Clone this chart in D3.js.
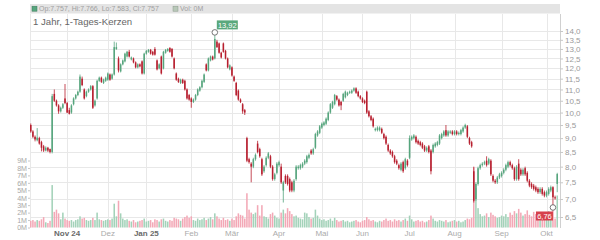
<!DOCTYPE html>
<html><head><meta charset="utf-8">
<script src="https://cdn.jsdelivr.net/npm/d3@7"></script>
<style>body{margin:0;background:#fff}svg{display:block;font-family:"Liberation Sans",Arial,sans-serif}</style>
</head><body><svg id="c" width="600" height="240"></svg>
<script>
// ---- data ----
const open=[9.50,9.25,9.05,8.92,9.00,8.85,8.70,8.55,8.65,8.60,8.50,10.80,10.50,10.30,10.05,10.20,10.60,10.40,10.10,10.00,
10.35,10.60,10.75,10.90,11.50,11.00,10.70,10.90,11.00,11.15,10.30,10.60,11.40,11.55,11.30,11.40,11.45,11.70,11.50,11.70,
13.00,12.50,11.85,12.20,12.35,12.60,12.85,12.45,12.50,12.30,12.05,12.20,12.35,11.75,12.75,12.85,12.95,12.85,13.00,12.40,
12.00,12.60,12.00,12.80,12.90,13.05,13.00,12.50,11.75,11.50,11.30,11.45,11.40,11.00,10.75,10.60,10.45,10.55,10.75,10.95,
11.10,11.35,12.20,11.90,12.40,12.60,12.50,13.40,13.30,12.80,13.30,12.90,12.50,11.95,12.05,11.60,11.30,10.95,10.55,10.35,
10.10,9.00,8.25,8.10,8.00,8.25,8.80,8.60,8.25,7.85,8.05,8.30,8.35,8.00,7.60,7.80,8.05,8.00,7.25,7.70,
7.70,7.60,7.50,7.25,7.60,7.95,7.95,8.00,8.10,8.15,8.30,8.55,8.45,8.65,9.10,9.20,9.40,9.50,9.55,9.70,
10.00,10.20,10.35,10.70,10.55,10.45,10.50,10.65,10.75,10.85,10.85,10.95,11.05,10.90,10.70,10.60,10.50,10.90,10.05,9.85,
9.75,9.30,9.30,9.30,9.35,9.15,9.05,8.75,8.55,8.50,8.35,8.20,8.05,7.90,8.15,7.95,8.20,8.30,8.95,9.00,
9.05,8.90,8.85,8.80,8.70,8.55,8.70,8.55,8.50,8.70,8.75,8.80,9.00,9.10,9.30,9.10,9.20,9.25,9.15,9.25,
9.15,9.15,9.25,9.40,9.45,9.00,8.85,7.85,7.00,7.45,7.95,8.05,8.10,8.20,8.10,8.20,7.70,7.55,7.50,7.65,
7.70,7.80,7.90,8.00,8.15,8.05,7.95,7.60,8.10,7.90,7.75,7.95,7.80,7.55,7.45,7.40,7.35,7.30,7.20,7.30,
7.20,7.10,7.15,7.25,7.35,7.05,7.45];
const high=[9.56,9.30,9.10,9.38,9.05,8.90,8.75,8.70,8.68,8.62,10.80,11.00,10.55,10.35,10.25,10.40,11.25,10.45,10.20,10.35,
10.65,10.80,10.95,11.70,11.60,11.05,10.95,11.05,11.20,11.20,10.55,11.45,11.60,11.60,11.50,11.60,11.80,11.75,11.75,13.40,
13.35,12.60,12.25,12.45,12.80,12.90,12.95,12.60,12.55,12.35,12.25,12.25,12.40,12.80,12.95,13.00,13.00,12.90,13.10,12.45,
12.25,12.65,12.90,13.00,13.05,13.10,13.05,12.55,11.80,11.55,11.50,11.50,11.45,11.05,10.80,10.65,10.60,10.80,11.05,11.15,
11.45,11.75,12.25,12.55,12.65,12.65,13.92,13.50,13.35,12.85,13.35,12.95,12.55,12.20,12.10,11.65,11.35,11.00,10.60,10.40,
10.15,9.05,8.30,8.15,8.30,8.45,8.90,8.65,8.30,8.05,8.35,8.50,8.40,8.05,7.80,8.15,8.20,8.10,7.55,7.75,
7.75,7.65,7.55,7.60,8.05,8.05,8.10,8.15,8.25,8.40,8.45,8.60,8.65,9.20,9.30,9.50,9.60,9.65,9.80,10.05,
10.40,10.50,10.80,10.75,10.60,10.50,10.85,10.95,10.90,10.95,11.00,11.10,11.10,10.95,10.75,10.65,10.55,10.95,10.10,9.90,
9.80,9.40,9.45,9.45,9.40,9.20,9.10,8.80,8.60,8.55,8.40,8.25,8.10,8.15,8.20,8.30,8.25,9.10,9.10,9.15,
9.10,8.95,8.90,8.85,8.75,8.70,8.75,8.60,8.80,8.85,8.90,9.15,9.20,9.30,9.50,9.30,9.30,9.30,9.30,9.30,
9.25,9.35,9.45,9.55,9.50,9.05,8.90,8.00,7.50,8.00,8.10,8.15,8.20,8.35,8.30,8.25,7.75,7.60,7.70,7.80,
7.85,7.95,8.10,8.20,8.20,8.10,8.00,8.05,8.25,7.95,7.95,8.00,7.85,7.60,7.50,7.45,7.40,7.35,7.35,7.35,
7.25,7.25,7.35,7.40,7.38,7.10,7.80];
const low=[9.20,9.00,8.88,8.88,8.76,8.52,8.50,8.52,8.50,8.45,8.45,10.45,10.25,9.95,10.00,10.15,10.35,9.98,9.92,9.95,
10.30,10.55,10.70,10.85,11.15,10.55,10.65,10.85,10.95,10.15,10.25,10.55,11.35,11.30,11.25,11.35,11.40,11.40,11.45,11.65,
12.95,11.80,11.80,12.15,12.30,12.55,12.55,12.40,12.25,12.00,12.00,12.05,11.70,11.70,12.70,12.80,12.70,12.65,12.65,11.90,
11.95,11.70,11.95,12.75,12.85,12.80,12.55,11.95,11.40,11.30,11.25,11.25,10.95,10.55,10.50,10.20,10.40,10.50,10.70,10.90,
11.05,11.30,11.85,11.85,12.35,12.40,12.45,13.05,12.75,12.50,12.80,12.45,12.00,11.90,11.60,11.35,10.70,10.50,10.40,9.95,
9.90,8.15,8.10,7.50,7.95,8.20,8.45,8.30,7.70,7.80,8.00,8.25,7.95,7.55,7.55,7.75,8.00,7.45,6.90,7.45,
7.40,7.20,7.20,7.20,7.55,7.90,7.90,7.95,8.05,8.10,8.25,8.40,8.40,8.60,9.05,9.15,9.35,9.45,9.50,9.65,
9.95,10.15,10.30,10.50,10.25,10.10,10.45,10.60,10.70,10.80,10.80,10.90,10.80,10.65,10.55,10.40,10.35,9.95,9.80,9.65,
9.40,9.25,9.25,9.25,9.15,8.95,8.75,8.50,8.40,8.30,8.10,8.05,7.90,7.85,7.80,7.90,8.00,8.25,8.90,8.95,
8.80,8.75,8.70,8.60,8.50,8.50,8.45,7.75,8.45,8.65,8.70,8.75,8.95,9.05,9.05,9.05,9.15,9.10,9.10,9.10,
9.10,9.10,9.20,9.35,9.00,8.75,8.65,6.90,6.95,7.40,7.90,8.00,8.05,8.00,8.05,7.70,7.50,7.45,7.45,7.60,
7.65,7.75,7.85,7.95,8.00,7.90,7.55,7.55,7.55,7.70,7.70,7.70,7.50,7.35,7.30,7.25,7.20,7.15,7.15,7.10,
7.05,7.05,7.10,7.20,6.76,6.98,7.20];
const close=[9.25,9.05,8.95,9.02,8.80,8.65,8.55,8.65,8.55,8.50,10.70,10.50,10.30,10.05,10.20,10.35,10.40,10.00,9.95,10.30,
10.60,10.75,10.90,11.60,11.20,10.60,10.90,11.00,11.15,10.20,10.50,11.40,11.55,11.35,11.45,11.55,11.75,11.45,11.70,13.10,
13.10,11.90,12.20,12.40,12.75,12.85,12.60,12.55,12.30,12.05,12.20,12.10,11.75,12.75,12.90,12.95,12.75,12.70,12.70,11.95,
12.20,11.75,12.85,12.95,13.00,12.85,12.60,12.00,11.45,11.35,11.45,11.30,11.00,10.60,10.55,10.45,10.55,10.75,11.00,11.10,
11.40,11.70,11.90,12.50,12.60,12.45,13.55,13.10,12.80,12.55,12.85,12.50,12.05,12.15,11.65,11.40,10.75,10.55,10.45,10.05,
10.00,8.20,8.15,8.00,8.25,8.40,8.50,8.35,7.75,8.00,8.30,8.45,8.00,7.60,7.75,8.10,8.15,7.50,7.50,7.50,
7.45,7.25,7.25,7.55,8.00,8.00,8.05,8.10,8.20,8.35,8.40,8.45,8.60,9.15,9.25,9.45,9.55,9.60,9.75,10.00,
10.35,10.45,10.75,10.55,10.30,10.30,10.80,10.90,10.85,10.90,10.95,11.05,10.85,10.70,10.60,10.45,10.40,10.00,9.85,9.70,
9.45,9.35,9.40,9.40,9.20,9.00,8.80,8.55,8.45,8.35,8.15,8.10,7.95,8.10,7.85,8.25,8.05,9.00,9.05,9.10,
8.85,8.80,8.75,8.65,8.55,8.65,8.50,7.85,8.75,8.80,8.85,9.10,9.15,9.25,9.10,9.25,9.25,9.15,9.25,9.15,
9.20,9.30,9.40,9.50,9.05,8.80,8.70,6.95,7.45,7.95,8.05,8.10,8.15,8.05,8.25,7.75,7.55,7.50,7.65,7.75,
7.80,7.90,8.05,8.15,8.05,7.95,7.60,8.00,7.60,7.75,7.90,7.75,7.55,7.40,7.35,7.30,7.25,7.20,7.30,7.15,
7.10,7.20,7.30,7.35,7.05,7.02,7.76];
const volume=[0.9,1.0,0.8,1.0,0.9,1.1,1.4,0.7,0.6,0.9, 5.7,2.1,2.4,1.9,1.1,2.0,1.2,1.0,0.9,1.0,
0.8,1.0,1.1,1.5,1.2,1.3,1.0,0.9,1.0,1.3, 1.0,2.0,1.1,1.0,0.9,1.0,1.1,1.0,1.2,3.2,
1.5,3.6,1.9,1.2,1.0,1.1,0.9,0.8,1.0,0.7, 0.8,0.9,1.0,1.2,0.8,0.9,1.0,0.7,1.1,1.0,
0.8,1.1,1.2,0.9,0.8,1.0,0.9,1.3,1.2,1.1, 0.9,1.2,1.4,1.6,1.3,1.5,1.0,0.9,1.2,1.0,
1.1,1.3,1.0,1.2,1.4,1.1,1.9,1.5,1.2,1.0, 1.3,1.0,1.1,0.9,1.2,1.0,1.5,1.9,1.7,1.6,
1.2,4.6,2.4,2.0,1.8,2.0,3.0,1.6,3.0,1.5, 1.4,1.2,1.8,2.0,1.6,1.3,1.2,2.0,2.4,1.9,
2.6,2.2,1.8,1.5,1.6,1.3,1.2,1.1,2.0,1.9, 1.4,1.2,1.3,2.4,1.6,1.2,1.0,1.1,0.9,1.0,
1.2,0.9,1.3,1.0,0.8,0.9,1.0,0.8,0.9,0.7, 0.8,0.9,1.0,0.8,0.7,0.9,1.0,1.4,1.1,0.9,
1.0,0.8,0.7,0.9,0.8,1.0,1.2,0.9,1.0,0.8, 1.1,0.9,1.0,0.8,1.0,1.2,0.9,1.6,1.1,0.8,
0.9,1.0,0.8,0.9,0.7,0.8,1.0,1.6,1.2,0.9, 0.8,1.0,0.9,0.8,1.0,0.7,0.8,0.9,1.0,0.8,
0.9,0.7,0.8,1.0,1.2,1.1,1.3,8.1,5.3,2.6, 1.8,1.5,1.6,1.9,1.4,2.0,1.7,1.5,1.3,1.4,
1.6,1.5,1.8,1.4,2.0,1.7,2.2,1.9,2.5,2.0, 1.6,1.8,2.3,1.7,1.5,2.1,1.8,1.6,1.4,1.9,
2.0,1.7,2.2,1.8,2.5,1.2,4.3];
const monthLabels=["Nov 24","Dez","Jan 25","Feb","Mär","Apr","Mai","Jun","Jul","Aug","Sep","Okt"];
const monthStart=[17,36,54,75,94,116,136,155,177,198,220,241];
const yearLabels=["Nov 24","Jan 25"];
const priceTicks=[6.5,7,7.5,8,8.5,9,9.5,10,10.5,11,11.5,12,12.5,13,13.5,14];
const volTicks=[0,1,2,3,4,5,6,7,8,9];
const titleText="1 Jahr, 1-Tages-Kerzen";
const legendText="Op:7.757, Hi:7.766, Lo:7.583, Cl:7.757";
const volLegendText="Vol: 0M";
const maxIdx=86, minIdx=244;

// ---- drawing ----
const n=close.length;
const svg=d3.select("#c");
const GREEN="#56a57d", RED="#b71f2f", VGREEN="#a3d2b9", VRED="#f3a8b6";
const L=30,R=560,T=14,B=228;
const loc=d3.formatLocale({decimal:",",thousands:".",grouping:[3],currency:["","€"]});
const f1=loc.format(".1f"), f2=loc.format(".2f");

const x=d3.scaleBand().domain(d3.range(n)).range([L,558]).paddingInner(0.28);
const y=d3.scaleLog().domain([6.5,14]).range([217,31]);
const yv=d3.scaleLinear().domain([0,9]).range([227.5,160.5]);
const cx=i=>x(i)+x.bandwidth()/2;

// header bar
svg.append("rect").attr("x",L).attr("y",4).attr("width",R-L).attr("height",9.5).attr("fill","#e4e4e4");
svg.append("rect").attr("x",32).attr("y",6.2).attr("width",5).attr("height",5).attr("fill",GREEN).attr("stroke","#3d7a5a").attr("stroke-width",0.5);
svg.append("text").attr("x",39).attr("y",11.3).attr("font-size",7).attr("fill","#a0a0a0").text(legendText);
svg.append("rect").attr("x",173).attr("y",6.2).attr("width",5).attr("height",5).attr("fill","#b8c8b8").attr("stroke","#8a9a8a").attr("stroke-width",0.5);
svg.append("text").attr("x",180).attr("y",11.3).attr("font-size",7).attr("fill","#a0a0a0").text(volLegendText);

// grid
const g=svg.append("g");
g.selectAll("line.h").data(priceTicks).join("line")
  .attr("x1",L).attr("x2",R).attr("y1",d=>Math.round(y(d))+0.5).attr("y2",d=>Math.round(y(d))+0.5)
  .attr("stroke","#e8e8e8").attr("stroke-width",1);
g.selectAll("line.v").data(monthStart).join("line")
  .attr("x1",d=>Math.round(cx(d))+0.5).attr("x2",d=>Math.round(cx(d))+0.5).attr("y1",T).attr("y2",B)
  .attr("stroke","#e8e8e8");
g.append("line").attr("x1",L+0.5).attr("x2",L+0.5).attr("y1",T).attr("y2",B).attr("stroke","#e8e8e8");

// title
svg.append("text").attr("x",33).attr("y",25).attr("font-size",9.6).attr("fill","#666").text(titleText);

// volume bars
svg.append("g").selectAll("rect").data(volume).join("rect")
  .attr("x",(d,i)=>x(i)).attr("width",x.bandwidth())
  .attr("y",d=>yv(d)).attr("height",d=>yv(0)-yv(d))
  .attr("fill",(d,i)=>close[i]>=open[i]?VGREEN:VRED);

// candles
const cg=svg.append("g");
cg.selectAll("line").data(close).join("line")
  .attr("x1",(d,i)=>cx(i)).attr("x2",(d,i)=>cx(i))
  .attr("y1",(d,i)=>y(high[i])).attr("y2",(d,i)=>y(low[i]))
  .attr("stroke",(d,i)=>close[i]>=open[i]?GREEN:RED).attr("stroke-width",0.8);
cg.selectAll("rect").data(close).join("rect")
  .attr("x",(d,i)=>x(i)).attr("width",x.bandwidth())
  .attr("y",(d,i)=>y(Math.max(open[i],close[i])))
  .attr("height",(d,i)=>Math.max(1,Math.abs(y(open[i])-y(close[i]))))
  .attr("fill",(d,i)=>close[i]>=open[i]?GREEN:RED);

// axes
const ax=svg.append("g").attr("transform",`translate(${R},0)`)
  .call(d3.axisRight(y).tickValues(priceTicks).tickFormat(f1).tickSize(3).tickPadding(2));
ax.select(".domain").attr("stroke","#d0d0d0").attr("d",`M0.5,${T}V${B}`);
ax.selectAll(".tick line").attr("stroke","#c8c8c8");
ax.selectAll("text").attr("font-size",8).attr("fill","#9a9a9a").attr("font-family","Liberation Sans, Arial, sans-serif");

const av=svg.append("g").attr("transform",`translate(${L},0)`)
  .call(d3.axisLeft(yv).tickValues(volTicks).tickFormat(d=>d+"M").tickSize(2).tickPadding(1));
av.select(".domain").remove();
av.selectAll(".tick line").attr("stroke","#c8c8c8");
av.selectAll("text").attr("font-size",7.1).attr("fill","#a8a8a8").attr("font-family","Liberation Sans, Arial, sans-serif");

// month labels
svg.append("g").selectAll("text").data(monthLabels).join("text")
  .attr("x",(d,i)=>cx(monthStart[i])).attr("y",235.5).attr("text-anchor","middle")
  .attr("font-size",8)
  .attr("fill",d=>yearLabels.includes(d)?"#6a6a6a":"#ababab")
  .attr("font-weight",d=>yearLabels.includes(d)?"bold":"normal")
  .text(d=>d);

// max / min markers
const hx=cx(maxIdx), hy=y(high[maxIdx]);
svg.append("rect").attr("x",hx+2).attr("y",hy-12).attr("width",21).attr("height",9).attr("fill","#5aa87c");
svg.append("text").attr("x",hx+12.5).attr("y",hy-4.8).attr("text-anchor","middle").attr("font-size",7.5).attr("fill","#fff").text(f2(high[maxIdx]));
svg.append("circle").attr("cx",hx).attr("cy",hy).attr("r",2.8).attr("fill","#fff").attr("stroke","#555").attr("stroke-width",0.8);

const lx=cx(minIdx), ly=y(low[minIdx]);
svg.append("rect").attr("x",lx-17).attr("y",ly+4).attr("width",17).attr("height",9).attr("fill","#d6404b");
svg.append("text").attr("x",lx-8.5).attr("y",ly+11.2).attr("text-anchor","middle").attr("font-size",7.5).attr("fill","#fff").text(f2(low[minIdx]));
svg.append("circle").attr("cx",lx).attr("cy",ly).attr("r",2.8).attr("fill","#fff").attr("stroke","#555").attr("stroke-width",0.8);
</script></body></html>
